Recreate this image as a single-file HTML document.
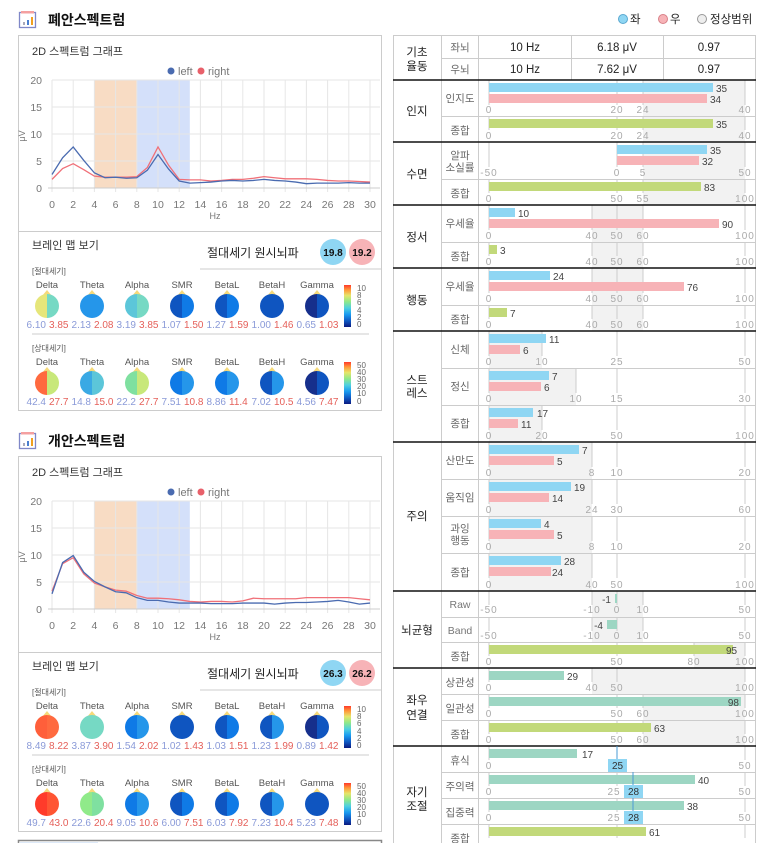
<!DOCTYPE html>
<html><head><meta charset="utf-8">
<style>
html,body{margin:0;padding:0;background:#fff;}
svg{display:block;font-family:"Liberation Sans","Noto Sans CJK KR",sans-serif;}
.t{font-size:10.5px;fill:#777;}
.tk{font-size:10px;fill:#aaa;text-anchor:middle;letter-spacing:1px;}
.v{font-size:10px;fill:#444;}
.sub{font-size:10.5px;fill:#666;text-anchor:middle;}
.cat{font-size:11.5px;fill:#222;text-anchor:middle;}
.bn{font-size:9.5px;fill:#555;text-anchor:middle;}
.vl{font-size:10px;fill:#8a9ad8;text-anchor:end;}
.vr{font-size:10px;fill:#e5605a;}
.cb{font-size:8px;fill:#666;}
</style></head><body>
<svg width="774" height="843" viewBox="0 0 774 843" xmlns="http://www.w3.org/2000/svg">
<defs>
<linearGradient id="jet" x1="0" y1="1" x2="0" y2="0">
<stop offset="0" stop-color="#0a1a80"/><stop offset="0.15" stop-color="#0f5ac4"/><stop offset="0.3" stop-color="#1a9bf0"/><stop offset="0.45" stop-color="#4fd0e0"/><stop offset="0.6" stop-color="#8ee88a"/><stop offset="0.75" stop-color="#e6e66a"/><stop offset="0.88" stop-color="#ff9a3a"/><stop offset="1" stop-color="#ff3a2a"/>
</linearGradient>
<g id="icon"><rect x="19.5" y="12.5" width="16" height="15" fill="#fff" stroke="#8088c8" stroke-width="1.3"/><rect x="21" y="11" width="13" height="2.5" fill="#f4a0a0"/><rect x="23" y="22" width="2" height="3" fill="#aab"/><rect x="27" y="20" width="2" height="5" fill="#4a7fd0"/><rect x="31" y="17" width="2" height="8" fill="#f0a020"/></g>
<g id="chartbase">
<rect x="18.5" y="35.5" width="363" height="375" fill="#fff" stroke="#ccc"/>
<text x="32" y="55" style="font-size:11px;fill:#333">2D 스펙트럼 그래프</text>
<circle cx="171" cy="71" r="3.5" fill="#4a6bb0"/><text x="178" y="75" style="font-size:11px;fill:#777">left</text>
<circle cx="201" cy="71" r="3.5" fill="#e8606a"/><text x="208" y="75" style="font-size:11px;fill:#777">right</text>
<rect x="94.4" y="80" width="42.4" height="108" fill="#f8dcc4"/>
<rect x="136.8" y="80" width="53" height="108" fill="#d4e0fa"/>
<g stroke="#e6e6e6" stroke-width="1">
<line x1="52" y1="80" x2="380" y2="80"/><line x1="52" y1="107" x2="380" y2="107"/><line x1="52" y1="134" x2="380" y2="134"/><line x1="52" y1="161" x2="380" y2="161"/>
<line x1="52" y1="80" x2="52" y2="192"/><line x1="73.2" y1="80" x2="73.2" y2="192"/><line x1="94.4" y1="80" x2="94.4" y2="192"/><line x1="115.6" y1="80" x2="115.6" y2="192"/><line x1="136.8" y1="80" x2="136.8" y2="192"/><line x1="158" y1="80" x2="158" y2="192"/><line x1="179.2" y1="80" x2="179.2" y2="192"/><line x1="200.4" y1="80" x2="200.4" y2="192"/><line x1="221.6" y1="80" x2="221.6" y2="192"/><line x1="242.8" y1="80" x2="242.8" y2="192"/><line x1="264" y1="80" x2="264" y2="192"/><line x1="285.2" y1="80" x2="285.2" y2="192"/><line x1="306.4" y1="80" x2="306.4" y2="192"/><line x1="327.6" y1="80" x2="327.6" y2="192"/><line x1="348.8" y1="80" x2="348.8" y2="192"/><line x1="370" y1="80" x2="370" y2="192"/>
</g>
<line x1="48" y1="188" x2="380" y2="188" stroke="#ccc"/>
<g class="t" text-anchor="end"><text x="42" y="84">20</text><text x="42" y="111">15</text><text x="42" y="138">10</text><text x="42" y="165">5</text><text x="42" y="192">0</text></g>
<g class="t" text-anchor="middle"><text x="52" y="208">0</text><text x="73.2" y="208">2</text><text x="94.4" y="208">4</text><text x="115.6" y="208">6</text><text x="136.8" y="208">8</text><text x="158" y="208">10</text><text x="179.2" y="208">12</text><text x="200.4" y="208">14</text><text x="221.6" y="208">16</text><text x="242.8" y="208">18</text><text x="264" y="208">20</text><text x="285.2" y="208">22</text><text x="306.4" y="208">24</text><text x="327.6" y="208">26</text><text x="348.8" y="208">28</text><text x="370" y="208">30</text>
<text x="215" y="219" style="font-size:9px">Hz</text></g>
<text transform="translate(25,136) rotate(-90)" style="font-size:9px;fill:#777" text-anchor="middle">μV</text>
<line x1="18" y1="231.5" x2="381" y2="231.5" stroke="#ccc"/>
<text x="32" y="249" style="font-size:11px;fill:#333">브레인 맵 보기</text>
<text x="207" y="257" style="font-size:12px;fill:#222">절대세기 원시뇌파</text>
<line x1="200" y1="269" x2="381" y2="269" stroke="#ccc"/>
<circle cx="333" cy="252" r="13" fill="#8fd6f3"/><circle cx="362" cy="252" r="13" fill="#f7b3b7"/>
<text x="32" y="274" style="font-size:8px;fill:#555">[절대세기]</text>
<line x1="32" y1="334" x2="369" y2="334" stroke="#ccc"/>
<text x="32" y="351" style="font-size:8px;fill:#555">[상대세기]</text>
<g class="bn"><text x="47" y="288">Delta</text><text x="92" y="288">Theta</text><text x="137" y="288">Alpha</text><text x="182" y="288">SMR</text><text x="227" y="288">BetaL</text><text x="272" y="288">BetaH</text><text x="317" y="288">Gamma</text>
<text x="47" y="365">Delta</text><text x="92" y="365">Theta</text><text x="137" y="365">Alpha</text><text x="182" y="365">SMR</text><text x="227" y="365">BetaL</text><text x="272" y="365">BetaH</text><text x="317" y="365">Gamma</text></g>
<g fill="#f5d97a"><polygon points="42,296 52,296 47,290"/><polygon points="87,296 97,296 92,290"/><polygon points="132,296 142,296 137,290"/><polygon points="177,296 187,296 182,290"/><polygon points="222,296 232,296 227,290"/><polygon points="267,296 277,296 272,290"/><polygon points="312,296 322,296 317,290"/>
<polygon points="42,373 52,373 47,367"/><polygon points="87,373 97,373 92,367"/><polygon points="132,373 142,373 137,367"/><polygon points="177,373 187,373 182,367"/><polygon points="222,373 232,373 227,367"/><polygon points="267,373 277,373 272,367"/><polygon points="312,373 322,373 317,367"/></g>
<rect x="344" y="285" width="7" height="42" fill="url(#jet)"/>
<rect x="344" y="362" width="7" height="42" fill="url(#jet)"/>
<g class="cb"><text x="357" y="291">10</text><text x="357" y="298">8</text><text x="357" y="305">6</text><text x="357" y="313">4</text><text x="357" y="320">2</text><text x="357" y="327">0</text>
<text x="357" y="368">50</text><text x="357" y="375">40</text><text x="357" y="382">30</text><text x="357" y="389">20</text><text x="357" y="396">10</text><text x="357" y="404">0</text></g>
</g>
</defs>

<use href="#icon"/>
<text x="48" y="25" style="font-size:14px;font-weight:bold;fill:#111">폐안스펙트럼</text>
<use href="#chartbase"/>
<g transform="translate(52,188) scale(10.6,-5.4)" fill="none" stroke-width="1.3">
<polyline vector-effect="non-scaling-stroke" stroke="#f07078" points="0,1.6 1,3.6 2,4.5 3,3.4 4,2.2 5,2.0 6,2.0 7,2.0 8,2.1 9,3.8 10,7.6 11,4.2 12,1.6 13,1.5 14,1.5 15,1.3 16,1.4 17,1.6 18,1.6 19,1.8 20,2.1 21,1.9 22,1.7 23,1.7 24,1.7 25,1.6 26,1.4 27,1.3 28,1.3 29,1.2 30,1.1"/>
<polyline vector-effect="non-scaling-stroke" stroke="#4a6bb0" points="0,2.5 1,5.6 2,7.6 3,5.1 4,2.8 5,1.9 6,2.0 7,1.8 8,1.9 9,3.3 10,6.2 11,3.5 12,1.3 13,0.9 14,1.0 15,1.1 16,1.3 17,1.4 18,1.3 19,1.4 20,1.6 21,1.4 22,1.3 23,1.1 24,0.8 25,0.9 26,0.9 27,0.9 28,1.0 29,0.9 30,0.9"/>
</g>
<text x="333" y="256" text-anchor="middle" style="font-size:10px;font-weight:bold;fill:#111">19.8</text>
<text x="362" y="256" text-anchor="middle" style="font-size:10px;font-weight:bold;fill:#111">19.2</text>
<g transform="translate(0,306)">
<path d="M47,-12A12,12 0 0 0 47,12Z" fill="#e6e67a"/><path d="M47,-12A12,12 0 0 1 47,12Z" fill="#76d9c4"/>
<circle cx="92" r="12" fill="#2596ea"/>
<path d="M137,-12A12,12 0 0 0 137,12Z" fill="#5cc6d9"/><path d="M137,-12A12,12 0 0 1 137,12Z" fill="#76d9c4"/>
<path d="M182,-12A12,12 0 0 0 182,12Z" fill="#0f55c0"/><path d="M182,-12A12,12 0 0 1 182,12Z" fill="#0f7ae6"/>
<path d="M227,-12A12,12 0 0 0 227,12Z" fill="#0f55c0"/><path d="M227,-12A12,12 0 0 1 227,12Z" fill="#0f7ae6"/>
<circle cx="272" r="12" fill="#0f55c0"/>
<path d="M317,-12A12,12 0 0 0 317,12Z" fill="#162f8c"/><path d="M317,-12A12,12 0 0 1 317,12Z" fill="#0f55c0"/>
</g>
<g transform="translate(0,383)">
<path d="M47,-12A12,12 0 0 0 47,12Z" fill="#ff6a3f"/><path d="M47,-12A12,12 0 0 1 47,12Z" fill="#c8e87a"/>
<path d="M92,-12A12,12 0 0 0 92,12Z" fill="#3aa9e4"/><path d="M92,-12A12,12 0 0 1 92,12Z" fill="#5cc6d9"/>
<path d="M137,-12A12,12 0 0 0 137,12Z" fill="#7fe0a0"/><path d="M137,-12A12,12 0 0 1 137,12Z" fill="#c8e87a"/>
<path d="M182,-12A12,12 0 0 0 182,12Z" fill="#0f7ae6"/><path d="M182,-12A12,12 0 0 1 182,12Z" fill="#2596ea"/>
<path d="M227,-12A12,12 0 0 0 227,12Z" fill="#0f7ae6"/><path d="M227,-12A12,12 0 0 1 227,12Z" fill="#2596ea"/>
<path d="M272,-12A12,12 0 0 0 272,12Z" fill="#0f55c0"/><path d="M272,-12A12,12 0 0 1 272,12Z" fill="#2596ea"/>
<path d="M317,-12A12,12 0 0 0 317,12Z" fill="#162f8c"/><path d="M317,-12A12,12 0 0 1 317,12Z" fill="#0f55c0"/>
</g>
<g class="vl"><text x="46" y="328">6.10</text><text x="91" y="328">2.13</text><text x="136" y="328">3.19</text><text x="181" y="328">1.07</text><text x="226" y="328">1.27</text><text x="271" y="328">1.00</text><text x="316" y="328">0.65</text>
<text x="46" y="405">42.4</text><text x="91" y="405">14.8</text><text x="136" y="405">22.2</text><text x="181" y="405">7.51</text><text x="226" y="405">8.86</text><text x="271" y="405">7.02</text><text x="316" y="405">4.56</text></g>
<g class="vr"><text x="49" y="328">3.85</text><text x="94" y="328">2.08</text><text x="139" y="328">3.85</text><text x="184" y="328">1.50</text><text x="229" y="328">1.59</text><text x="274" y="328">1.46</text><text x="319" y="328">1.03</text>
<text x="49" y="405">27.7</text><text x="94" y="405">15.0</text><text x="139" y="405">27.7</text><text x="184" y="405">10.8</text><text x="229" y="405">11.4</text><text x="274" y="405">10.5</text><text x="319" y="405">7.47</text></g>

<g transform="translate(0,421)">
<use href="#icon"/>
<text x="48" y="25" style="font-size:14px;font-weight:bold;fill:#111">개안스펙트럼</text>
<use href="#chartbase"/>
<g transform="translate(52,188) scale(10.6,-5.4)" fill="none" stroke-width="1.3">
<polyline vector-effect="non-scaling-stroke" stroke="#f07078" points="0,3.3 1,8.4 2,9.5 3,6.5 4,4.8 5,4.1 6,3.5 7,3.3 8,2.5 9,2.0 10,2.0 11,1.9 12,1.7 13,1.4 14,1.3 15,1.4 16,1.4 17,1.3 18,1.5 19,2.0 20,1.9 21,1.9 22,1.9 23,1.9 24,2.1 25,2.1 26,2.1 27,2.1 28,2.1 29,1.9 30,1.7"/>
<polyline vector-effect="non-scaling-stroke" stroke="#4a6bb0" points="0,2.8 1,8.6 2,9.9 3,6.8 4,5.1 5,4.1 6,3.2 7,3.0 8,2.1 9,1.6 10,1.6 11,1.3 12,1.1 13,1.1 14,1.1 15,1.0 16,1.0 17,1.0 18,1.1 19,1.1 20,1.1 21,0.9 22,1.1 23,1.2 24,1.2 25,1.3 26,1.4 27,1.6 28,1.3 29,0.9 30,1.1"/>
</g>
<text x="333" y="256" text-anchor="middle" style="font-size:10px;font-weight:bold;fill:#111">26.3</text>
<text x="362" y="256" text-anchor="middle" style="font-size:10px;font-weight:bold;fill:#111">26.2</text>
<g transform="translate(0,306)">
<path d="M47,-12A12,12 0 0 0 47,12Z" fill="#ff5f3a"/><path d="M47,-12A12,12 0 0 1 47,12Z" fill="#ff6a3f"/>
<circle cx="92" r="12" fill="#76d9c4"/>
<path d="M137,-12A12,12 0 0 0 137,12Z" fill="#0f7ae6"/><path d="M137,-12A12,12 0 0 1 137,12Z" fill="#2596ea"/>
<circle cx="182" r="12" fill="#0f55c0"/>
<path d="M227,-12A12,12 0 0 0 227,12Z" fill="#0f55c0"/><path d="M227,-12A12,12 0 0 1 227,12Z" fill="#0f7ae6"/>
<path d="M272,-12A12,12 0 0 0 272,12Z" fill="#0f55c0"/><path d="M272,-12A12,12 0 0 1 272,12Z" fill="#2596ea"/>
<path d="M317,-12A12,12 0 0 0 317,12Z" fill="#162f8c"/><path d="M317,-12A12,12 0 0 1 317,12Z" fill="#0f55c0"/>
</g>
<g transform="translate(0,383)">
<path d="M47,-12A12,12 0 0 0 47,12Z" fill="#ff3b2a"/><path d="M47,-12A12,12 0 0 1 47,12Z" fill="#ff5533"/>
<path d="M92,-12A12,12 0 0 0 92,12Z" fill="#90ea8a"/><path d="M92,-12A12,12 0 0 1 92,12Z" fill="#7fe0a0"/>
<path d="M137,-12A12,12 0 0 0 137,12Z" fill="#0f7ae6"/><path d="M137,-12A12,12 0 0 1 137,12Z" fill="#2596ea"/>
<path d="M182,-12A12,12 0 0 0 182,12Z" fill="#0f55c0"/><path d="M182,-12A12,12 0 0 1 182,12Z" fill="#0f7ae6"/>
<path d="M227,-12A12,12 0 0 0 227,12Z" fill="#0f55c0"/><path d="M227,-12A12,12 0 0 1 227,12Z" fill="#0f7ae6"/>
<path d="M272,-12A12,12 0 0 0 272,12Z" fill="#0f55c0"/><path d="M272,-12A12,12 0 0 1 272,12Z" fill="#2596ea"/>
<circle cx="317" r="12" fill="#0f55c0"/>
</g>
<g class="vl"><text x="46" y="328">8.49</text><text x="91" y="328">3.87</text><text x="136" y="328">1.54</text><text x="181" y="328">1.02</text><text x="226" y="328">1.03</text><text x="271" y="328">1.23</text><text x="316" y="328">0.89</text>
<text x="46" y="405">49.7</text><text x="91" y="405">22.6</text><text x="136" y="405">9.05</text><text x="181" y="405">6.00</text><text x="226" y="405">6.03</text><text x="271" y="405">7.23</text><text x="316" y="405">5.23</text></g>
<g class="vr"><text x="49" y="328">8.22</text><text x="94" y="328">3.90</text><text x="139" y="328">2.02</text><text x="184" y="328">1.43</text><text x="229" y="328">1.51</text><text x="274" y="328">1.99</text><text x="319" y="328">1.42</text>
<text x="49" y="405">43.0</text><text x="94" y="405">20.4</text><text x="139" y="405">10.6</text><text x="184" y="405">7.51</text><text x="229" y="405">7.92</text><text x="274" y="405">10.4</text><text x="319" y="405">7.48</text></g>
</g>
<rect x="18.5" y="840.5" width="363" height="10" fill="#fff" stroke="#888" stroke-width="1.5"/>
<rect x="20" y="842" width="78" height="3" fill="#dde9f8"/>

<circle cx="623" cy="19" r="4.5" fill="#8fd6f3" stroke="#5aa8d0"/><text x="630" y="23" style="font-size:11.5px;fill:#222">좌</text>
<circle cx="663" cy="19" r="4.5" fill="#f7b3b7" stroke="#d88088"/><text x="670" y="23" style="font-size:11.5px;fill:#222">우</text>
<circle cx="702" cy="19" r="4.5" fill="#eee" stroke="#999"/><text x="710" y="23" style="font-size:11.5px;fill:#222">정상범위</text>

<g id="rt">
<g fill="#f2f2f2">
<rect x="643" y="80" width="102" height="62"/>
<rect x="643" y="142" width="102" height="63"/>
<rect x="592" y="205" width="51" height="126"/>
<rect x="489" y="331" width="53" height="37"/>
<rect x="489" y="368" width="87" height="37"/>
<rect x="489" y="405" width="53" height="37"/>
<rect x="489" y="442" width="103" height="149"/>
<rect x="592" y="591" width="51" height="51"/>
<rect x="694" y="642" width="51" height="26"/>
<rect x="592" y="668" width="153" height="26"/>
<rect x="643" y="694" width="102" height="52"/>
</g>
<g stroke="#ccc">
<line x1="489" y1="80" x2="489" y2="105"/><line x1="617" y1="80" x2="617" y2="105"/><line x1="643" y1="80" x2="643" y2="105"/><line x1="745" y1="80" x2="745" y2="105"/>
<line x1="489" y1="116" x2="489" y2="130"/><line x1="617" y1="116" x2="617" y2="130"/><line x1="643" y1="116" x2="643" y2="130"/><line x1="745" y1="116" x2="745" y2="130"/>
<line x1="489" y1="142" x2="489" y2="167"/><line x1="617" y1="142" x2="617" y2="167"/><line x1="643" y1="142" x2="643" y2="167"/><line x1="745" y1="142" x2="745" y2="167"/>
<line x1="489" y1="179" x2="489" y2="193"/><line x1="617" y1="179" x2="617" y2="193"/><line x1="643" y1="179" x2="643" y2="193"/><line x1="745" y1="179" x2="745" y2="193"/>
<line x1="489" y1="205" x2="489" y2="230"/><line x1="592" y1="205" x2="592" y2="230"/><line x1="617" y1="205" x2="617" y2="230"/><line x1="643" y1="205" x2="643" y2="230"/><line x1="745" y1="205" x2="745" y2="230"/>
<line x1="489" y1="242" x2="489" y2="256"/><line x1="592" y1="242" x2="592" y2="256"/><line x1="617" y1="242" x2="617" y2="256"/><line x1="643" y1="242" x2="643" y2="256"/><line x1="745" y1="242" x2="745" y2="256"/>
<line x1="489" y1="268" x2="489" y2="293"/><line x1="592" y1="268" x2="592" y2="293"/><line x1="617" y1="268" x2="617" y2="293"/><line x1="643" y1="268" x2="643" y2="293"/><line x1="745" y1="268" x2="745" y2="293"/>
<line x1="489" y1="305" x2="489" y2="319"/><line x1="592" y1="305" x2="592" y2="319"/><line x1="617" y1="305" x2="617" y2="319"/><line x1="643" y1="305" x2="643" y2="319"/><line x1="745" y1="305" x2="745" y2="319"/>
<line x1="489" y1="331" x2="489" y2="356"/><line x1="542" y1="331" x2="542" y2="356"/><line x1="617" y1="331" x2="617" y2="356"/><line x1="745" y1="331" x2="745" y2="356"/>
<line x1="489" y1="368" x2="489" y2="393"/><line x1="576" y1="368" x2="576" y2="393"/><line x1="617" y1="368" x2="617" y2="393"/><line x1="745" y1="368" x2="745" y2="393"/>
<line x1="489" y1="405" x2="489" y2="430"/><line x1="542" y1="405" x2="542" y2="430"/><line x1="617" y1="405" x2="617" y2="430"/><line x1="745" y1="405" x2="745" y2="430"/>
<line x1="489" y1="442" x2="489" y2="467"/><line x1="592" y1="442" x2="592" y2="467"/><line x1="617" y1="442" x2="617" y2="467"/><line x1="745" y1="442" x2="745" y2="467"/>
<line x1="489" y1="479" x2="489" y2="504"/><line x1="592" y1="479" x2="592" y2="504"/><line x1="617" y1="479" x2="617" y2="504"/><line x1="745" y1="479" x2="745" y2="504"/>
<line x1="489" y1="516" x2="489" y2="541"/><line x1="592" y1="516" x2="592" y2="541"/><line x1="617" y1="516" x2="617" y2="541"/><line x1="745" y1="516" x2="745" y2="541"/>
<line x1="489" y1="553" x2="489" y2="578"/><line x1="592" y1="553" x2="592" y2="578"/><line x1="617" y1="553" x2="617" y2="578"/><line x1="745" y1="553" x2="745" y2="578"/>
<line x1="489" y1="591" x2="489" y2="605"/><line x1="592" y1="591" x2="592" y2="605"/><line x1="617" y1="591" x2="617" y2="605"/><line x1="643" y1="591" x2="643" y2="605"/><line x1="745" y1="591" x2="745" y2="605"/>
<line x1="489" y1="617" x2="489" y2="631"/><line x1="592" y1="617" x2="592" y2="631"/><line x1="617" y1="617" x2="617" y2="631"/><line x1="643" y1="617" x2="643" y2="631"/><line x1="745" y1="617" x2="745" y2="631"/>
<line x1="489" y1="642" x2="489" y2="656"/><line x1="617" y1="642" x2="617" y2="656"/><line x1="694" y1="642" x2="694" y2="656"/><line x1="745" y1="642" x2="745" y2="656"/>
<line x1="489" y1="668" x2="489" y2="682"/><line x1="592" y1="668" x2="592" y2="682"/><line x1="617" y1="668" x2="617" y2="682"/><line x1="745" y1="668" x2="745" y2="682"/>
<line x1="489" y1="694" x2="489" y2="708"/><line x1="617" y1="694" x2="617" y2="708"/><line x1="643" y1="694" x2="643" y2="708"/><line x1="745" y1="694" x2="745" y2="708"/>
<line x1="489" y1="720" x2="489" y2="734"/><line x1="617" y1="720" x2="617" y2="734"/><line x1="643" y1="720" x2="643" y2="734"/><line x1="745" y1="720" x2="745" y2="734"/>
<line x1="489" y1="746" x2="489" y2="760"/><line x1="745" y1="746" x2="745" y2="760"/>
<line x1="489" y1="772" x2="489" y2="786"/><line x1="617" y1="772" x2="617" y2="786"/><line x1="745" y1="772" x2="745" y2="786"/>
<line x1="489" y1="798" x2="489" y2="812"/><line x1="617" y1="798" x2="617" y2="812"/><line x1="745" y1="798" x2="745" y2="812"/>
<line x1="489" y1="824" x2="489" y2="838"/><line x1="617" y1="824" x2="617" y2="838"/><line x1="745" y1="824" x2="745" y2="838"/>
</g>
<g stroke="#ccc" stroke-width="1">
<line x1="393.5" y1="35" x2="393.5" y2="843"/><line x1="441.5" y1="35" x2="441.5" y2="843"/><line x1="478.5" y1="35" x2="478.5" y2="843"/><line x1="755.5" y1="35" x2="755.5" y2="843"/>
<line x1="393" y1="35.5" x2="756" y2="35.5"/>
<line x1="571.5" y1="35" x2="571.5" y2="80"/><line x1="663.5" y1="35" x2="663.5" y2="80"/>
<line x1="441" y1="58.5" x2="756" y2="58.5"/>
<line x1="441" y1="116.5" x2="756" y2="116.5"/><line x1="441" y1="179.5" x2="756" y2="179.5"/><line x1="441" y1="242.5" x2="756" y2="242.5"/><line x1="441" y1="305.5" x2="756" y2="305.5"/>
<line x1="441" y1="368.5" x2="756" y2="368.5"/><line x1="441" y1="405.5" x2="756" y2="405.5"/>
<line x1="441" y1="479.5" x2="756" y2="479.5"/><line x1="441" y1="516.5" x2="756" y2="516.5"/><line x1="441" y1="553.5" x2="756" y2="553.5"/>
<line x1="441" y1="617.5" x2="756" y2="617.5"/><line x1="441" y1="642.5" x2="756" y2="642.5"/>
<line x1="441" y1="694.5" x2="756" y2="694.5"/><line x1="441" y1="720.5" x2="756" y2="720.5"/>
<line x1="441" y1="772.5" x2="756" y2="772.5"/><line x1="441" y1="798.5" x2="756" y2="798.5"/><line x1="441" y1="824.5" x2="756" y2="824.5"/>
</g>
<g stroke="#111" stroke-width="1.5">
<line x1="393" y1="80" x2="756" y2="80"/><line x1="393" y1="142" x2="756" y2="142"/><line x1="393" y1="205" x2="756" y2="205"/><line x1="393" y1="268" x2="756" y2="268"/><line x1="393" y1="331" x2="756" y2="331"/><line x1="393" y1="442" x2="756" y2="442"/><line x1="393" y1="591" x2="756" y2="591"/><line x1="393" y1="668" x2="756" y2="668"/><line x1="393" y1="746" x2="756" y2="746"/>
</g>
<text class="cat" x="417" y="56">기초</text><text class="cat" x="417" y="70">율동</text>
<text class="sub" x="460" y="51">좌뇌</text><text class="sub" x="460" y="73">우뇌</text>
<g style="font-size:11.5px;fill:#222" text-anchor="middle">
<text x="525" y="51">10  Hz</text><text x="617" y="51">6.18  μV</text><text x="709" y="51">0.97</text>
<text x="525" y="73">10  Hz</text><text x="617" y="73">7.62  μV</text><text x="709" y="73">0.97</text>
</g>
<text class="cat" x="417" y="115">인지</text>
<text class="cat" x="417" y="178">수면</text>
<text class="cat" x="417" y="241">정서</text>
<text class="cat" x="417" y="304">행동</text>
<text class="cat" x="417" y="384">스트</text><text class="cat" x="417" y="397">레스</text>
<text class="cat" x="417" y="520">주의</text>
<text class="cat" x="417" y="634">뇌균형</text>
<text class="cat" x="417" y="704">좌우</text><text class="cat" x="417" y="719">연결</text>
<text class="cat" x="417" y="796">자기</text><text class="cat" x="417" y="810">조절</text>
<g>
<text class="sub" x="460" y="102">인지도</text><text class="sub" x="460" y="134">종합</text>
<text class="sub" x="460" y="159">알파</text><text class="sub" x="460" y="171">소실률</text><text class="sub" x="460" y="197">종합</text>
<text class="sub" x="460" y="227">우세율</text><text class="sub" x="460" y="260">종합</text>
<text class="sub" x="460" y="290">우세율</text><text class="sub" x="460" y="323">종합</text>
<text class="sub" x="460" y="353">신체</text><text class="sub" x="460" y="390">정신</text><text class="sub" x="460" y="427">종합</text>
<text class="sub" x="460" y="464">산만도</text><text class="sub" x="460" y="501">움직임</text><text class="sub" x="460" y="532">과잉</text><text class="sub" x="460" y="544">행동</text><text class="sub" x="460" y="576">종합</text>
<text class="sub" x="460" y="608" style="fill:#777">Raw</text><text class="sub" x="460" y="634" style="fill:#777">Band</text><text class="sub" x="460" y="660">종합</text>
<text class="sub" x="460" y="686">상관성</text><text class="sub" x="460" y="712">일관성</text><text class="sub" x="460" y="738">종합</text>
<text class="sub" x="460" y="764">휴식</text><text class="sub" x="460" y="790">주의력</text><text class="sub" x="460" y="816">집중력</text><text class="sub" x="460" y="842">종합</text>
</g>
<g>
<rect x="489" y="83" width="224" height="9" fill="#8fd6f3"/><rect x="489" y="94" width="218" height="9" fill="#f7b3b7"/>
<rect x="489" y="119" width="224" height="9" fill="#c2d97a"/>
<rect x="617" y="145" width="90" height="9" fill="#8fd6f3"/><rect x="617" y="156" width="82" height="9" fill="#f7b3b7"/>
<rect x="489" y="182" width="212" height="9" fill="#c2d97a"/>
<rect x="489" y="208" width="26" height="9" fill="#8fd6f3"/><rect x="489" y="219" width="230" height="9" fill="#f7b3b7"/>
<rect x="489" y="245" width="8" height="9" fill="#c2d97a"/>
<rect x="489" y="271" width="61" height="9" fill="#8fd6f3"/><rect x="489" y="282" width="195" height="9" fill="#f7b3b7"/>
<rect x="489" y="308" width="18" height="9" fill="#c2d97a"/>
<rect x="489" y="334" width="57" height="9" fill="#8fd6f3"/><rect x="489" y="345" width="31" height="9" fill="#f7b3b7"/>
<rect x="489" y="371" width="60" height="9" fill="#8fd6f3"/><rect x="489" y="382" width="52" height="9" fill="#f7b3b7"/>
<rect x="489" y="408" width="44" height="9" fill="#8fd6f3"/><rect x="489" y="419" width="29" height="9" fill="#f7b3b7"/>
<rect x="489" y="445" width="90" height="9" fill="#8fd6f3"/><rect x="489" y="456" width="65" height="9" fill="#f7b3b7"/>
<rect x="489" y="482" width="82" height="9" fill="#8fd6f3"/><rect x="489" y="493" width="60" height="9" fill="#f7b3b7"/>
<rect x="489" y="519" width="52" height="9" fill="#8fd6f3"/><rect x="489" y="530" width="65" height="9" fill="#f7b3b7"/>
<rect x="489" y="556" width="72" height="9" fill="#8fd6f3"/><rect x="489" y="567" width="62" height="9" fill="#f7b3b7"/>
<rect x="615" y="594" width="2" height="9" fill="#9dd6c3"/>
<rect x="607" y="620" width="10" height="9" fill="#9dd6c3"/>
<rect x="489" y="645" width="244" height="9" fill="#c2d97a"/>
<rect x="489" y="671" width="75" height="9" fill="#9dd6c3"/>
<rect x="489" y="697" width="252" height="9" fill="#9dd6c3"/>
<rect x="489" y="723" width="162" height="9" fill="#c2d97a"/>
<rect x="489" y="749" width="88" height="9" fill="#9dd6c3"/>
<rect x="489" y="775" width="206" height="9" fill="#9dd6c3"/>
<rect x="489" y="801" width="195" height="9" fill="#9dd6c3"/>
<rect x="489" y="827" width="157" height="9" fill="#c2d97a"/>
</g>
<g stroke="#4a9bd6"><line x1="617" y1="746" x2="617" y2="760"/><line x1="633" y1="772" x2="633" y2="786"/><line x1="633" y1="798" x2="633" y2="812"/></g>
<g fill="#8fd6f3"><rect x="608" y="759" width="19" height="13"/><rect x="624" y="785" width="19" height="13"/><rect x="624" y="811" width="19" height="13"/></g>
<g style="font-size:10px;fill:#333" text-anchor="middle"><text x="617.5" y="769">25</text><text x="633.5" y="795">28</text><text x="633.5" y="821">28</text></g>
<g class="v">
<text x="716" y="92">35</text><text x="710" y="103">34</text><text x="716" y="128">35</text>
<text x="710" y="154">35</text><text x="702" y="165">32</text><text x="704" y="191">83</text>
<text x="518" y="217">10</text><text x="722" y="228">90</text><text x="500" y="254">3</text>
<text x="553" y="280">24</text><text x="687" y="291">76</text><text x="510" y="317">7</text>
<text x="549" y="343">11</text><text x="523" y="354">6</text>
<text x="552" y="380">7</text><text x="544" y="391">6</text>
<text x="537" y="417">17</text><text x="521" y="428">11</text>
<text x="582" y="454">7</text><text x="557" y="465">5</text>
<text x="574" y="491">19</text><text x="552" y="502">14</text>
<text x="544" y="528">4</text><text x="557" y="539">5</text>
<text x="564" y="565">28</text><text x="552" y="576">24</text>
<text x="611" y="603" text-anchor="end">-1</text><text x="603" y="629" text-anchor="end">-4</text>
<text x="726" y="654">95</text>
<text x="567" y="680">29</text><text x="739" y="706" text-anchor="end">98</text><text x="654" y="732">63</text>
<text x="582" y="758">17</text><text x="698" y="784">40</text><text x="687" y="810">38</text><text x="649" y="836">61</text>
</g>
<g class="tk">
<text x="489" y="113">0</text><text x="617" y="113">20</text><text x="643" y="113">24</text><text x="745" y="113">40</text>
<text x="489" y="139">0</text><text x="617" y="139">20</text><text x="643" y="139">24</text><text x="745" y="139">40</text>
<text x="489" y="176">-50</text><text x="617" y="176">0</text><text x="643" y="176">5</text><text x="745" y="176">50</text>
<text x="489" y="202">0</text><text x="617" y="202">50</text><text x="643" y="202">55</text><text x="745" y="202">100</text>
<text x="489" y="239">0</text><text x="592" y="239">40</text><text x="617" y="239">50</text><text x="643" y="239">60</text><text x="745" y="239">100</text>
<text x="489" y="265">0</text><text x="592" y="265">40</text><text x="617" y="265">50</text><text x="643" y="265">60</text><text x="745" y="265">100</text>
<text x="489" y="302">0</text><text x="592" y="302">40</text><text x="617" y="302">50</text><text x="643" y="302">60</text><text x="745" y="302">100</text>
<text x="489" y="328">0</text><text x="592" y="328">40</text><text x="617" y="328">50</text><text x="643" y="328">60</text><text x="745" y="328">100</text>
<text x="489" y="365">0</text><text x="542" y="365">10</text><text x="617" y="365">25</text><text x="745" y="365">50</text>
<text x="489" y="402">0</text><text x="576" y="402">10</text><text x="617" y="402">15</text><text x="745" y="402">30</text>
<text x="489" y="439">0</text><text x="542" y="439">20</text><text x="617" y="439">50</text><text x="745" y="439">100</text>
<text x="489" y="476">0</text><text x="592" y="476">8</text><text x="617" y="476">10</text><text x="745" y="476">20</text>
<text x="489" y="513">0</text><text x="592" y="513">24</text><text x="617" y="513">30</text><text x="745" y="513">60</text>
<text x="489" y="550">0</text><text x="592" y="550">8</text><text x="617" y="550">10</text><text x="745" y="550">20</text>
<text x="489" y="588">0</text><text x="592" y="588">40</text><text x="617" y="588">50</text><text x="745" y="588">100</text>
<text x="489" y="613">-50</text><text x="592" y="613">-10</text><text x="617" y="613">0</text><text x="643" y="613">10</text><text x="745" y="613">50</text>
<text x="489" y="639">-50</text><text x="592" y="639">-10</text><text x="617" y="639">0</text><text x="643" y="639">10</text><text x="745" y="639">50</text>
<text x="489" y="665">0</text><text x="617" y="665">50</text><text x="694" y="665">80</text><text x="745" y="665">100</text>
<text x="489" y="691">0</text><text x="592" y="691">40</text><text x="617" y="691">50</text><text x="745" y="691">100</text>
<text x="489" y="717">0</text><text x="617" y="717">50</text><text x="643" y="717">60</text><text x="745" y="717">100</text>
<text x="489" y="743">0</text><text x="617" y="743">50</text><text x="643" y="743">60</text><text x="745" y="743">100</text>
<text x="489" y="769">0</text><text x="745" y="769">50</text>
<text x="489" y="795">0</text><text x="614" y="795">25</text><text x="745" y="795">50</text>
<text x="489" y="821">0</text><text x="614" y="821">25</text><text x="745" y="821">50</text>
</g>
</g>
</svg>
</body></html>
